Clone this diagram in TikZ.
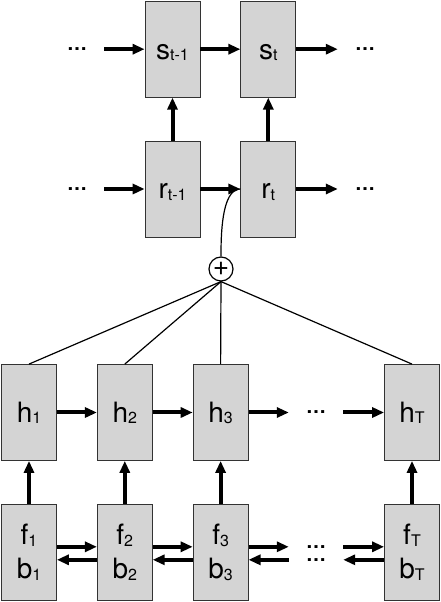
\documentclass[tikz,border=0pt]{standalone}
\usepackage{fontspec}
\setmainfont{TeX Gyre Heros}
\usetikzlibrary{graphs, arrows.meta, positioning}
\def\sub#1{\raisebox{-1.5pt}{\fontsize{16}{16}\selectfont #1}}
\def\Sprev{s\sub{t-1}}
\def\Snow{s\sub{t}}
\def\Rprev{r\sub{t-1}}
\def\Rnow{r\sub{t}}
\def\Hone{h\sub{1}}
\def\Htwo{h\sub{2}}
\def\Hthree{h\sub{3}}
\def\Hlast{h\sub{T}}
\def\FBone{f\sub{1}\\b\sub{1}}
\def\FBtwo{f\sub{2}\\b\sub{2}}
\def\FBthree{f\sub{3}\\b\sub{3}}
\def\FBlast{f\sub{T}\\b\sub{T}}
\def\More{…}

\tikzset{
    cell/.style={draw=black!80, fill=black!17, line width=0.8pt,
        minimum width=55pt, minimum height=96pt, inner sep=0pt,
        font=\fontsize{28}{34}\selectfont},
    unit/.style={cell, text height=22pt, text depth=2pt},
    pair/.style={cell, align=center},
    more/.style={inner xsep=17pt, inner ysep=0pt, font=\fontsize{20}{20}\selectfont\bfseries},
    flow/.style={line width=4pt, -{Triangle[length=12pt, width=10pt]}},
    tie/.style={line width=1.2pt},
}

\begin{document}
\begin{tikzpicture}[x=1pt, y=1pt, node distance=40pt, >={Triangle[length=12pt, width=10pt]}]
    \useasboundingbox (0,0) rectangle (440,602);

    % decoder
    \node[unit] (r1) at (172.5,413) {\Rprev};
    \node[unit, right=of r1] (r2) {\Rnow};
    \node[unit, above=43pt of r1] (s1) {\Sprev};
    \node[unit, above=43pt of r2] (s2) {\Snow};
    \node[more] (sl) at (s1 -| 77,0) {\More};
    \node[more] (sr) at (s1 -| 365,0) {\More};
    \node[more] (rl) at (r1 -| 77,0) {\More};
    \node[more] (rr) at (r1 -| 365,0) {\More};

    \node[circle, draw, line width=1.2pt, minimum size=24pt, inner sep=0pt,
        font=\fontsize{28}{28}\selectfont] (sum) at (221,333) {+};

    % encoder
    \node[unit] (h1) at (29,189.5) {\Hone};
    \node[unit, right=of h1] (h2) {\Htwo};
    \node[unit, right=of h2] (h3) {\Hthree};
    \node[unit] (hT) at (412,189.5) {\Hlast};
    \node[more] (hd) at (316,189.5) {\More};
    \node[pair, below=43pt of h1] (f1) {\FBone};
    \node[pair, below=43pt of h2] (f2) {\FBtwo};
    \node[pair, below=43pt of h3] (f3) {\FBthree};
    \node[pair, below=43pt of hT] (fT) {\FBlast};
    \coordinate (fb) at (hd |- f3);
    \node[more] (fd) at ([yshift=5.5pt]fb) {\More};
    \node[more] (bd) at ([yshift=-7.5pt]fb) {\More};

    \graph [use existing nodes, edges=flow] {
        sl -> s1 -> s2 -> sr;
        rl -> r1 -> r2 -> rr;
        r1 -> s1; r2 -> s2;
        h1 -> h2 -> h3 -> hd -> hT;
        f1 -> h1; f2 -> h2; f3 -> h3; fT -> hT;
    };

    \draw[flow] ([yshift=5.5pt]f1.east) -- ([yshift=5.5pt]f2.west);
    \draw[flow] ([yshift=5.5pt]f2.east) -- ([yshift=5.5pt]f3.west);
    \draw[flow] ([yshift=5.5pt]f3.east) -- (fd.west);
    \draw[flow] (fd.east) -- ([yshift=5.5pt]fT.west);
    \draw[flow] ([yshift=-7.5pt]f2.west) -- ([yshift=-7.5pt]f1.east);
    \draw[flow] ([yshift=-7.5pt]f3.west) -- ([yshift=-7.5pt]f2.east);
    \draw[flow] (bd.west) -- ([yshift=-7.5pt]f3.east);
    \draw[flow] ([yshift=-7.5pt]fT.west) -- (bd.east);

    \foreach \n in {h1, h2, h3, hT}
        \draw[tie] (sum.south) -- (\n.north);
    \draw[tie] (sum.north) to[out=90, in=180, looseness=0.7] (r2.west);
\end{tikzpicture}
\end{document}
